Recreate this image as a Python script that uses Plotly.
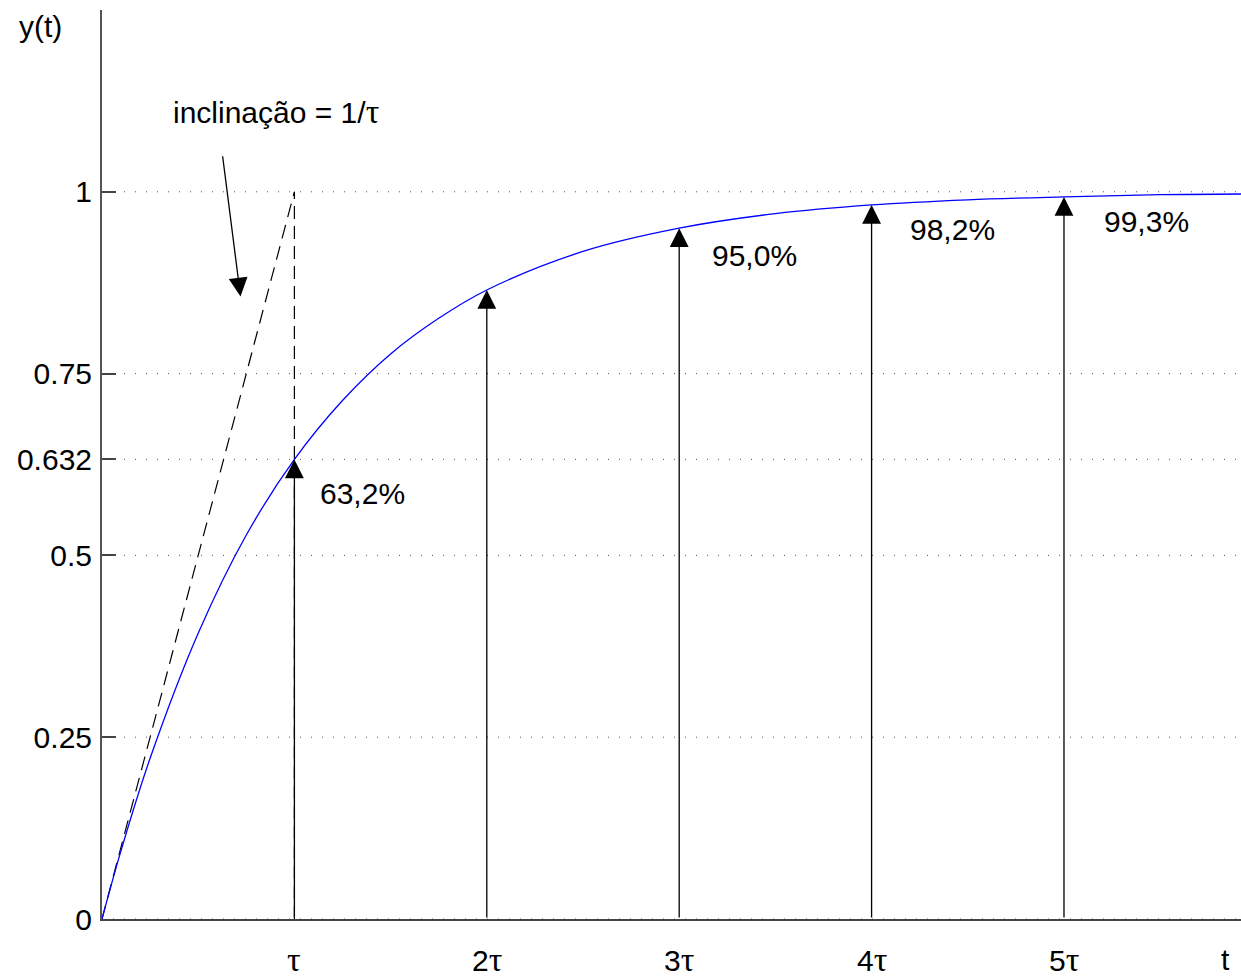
import plotly.graph_objects as go

# Step response of a first-order system, time measured in units of tau
t_curve = [0, 0.1, 0.25, 0.5, 0.75, 1.0, 1.25, 1.5, 1.75, 2.0, 2.5, 3.0, 3.5, 4.0, 4.5, 5.0, 5.5, 5.92]
y_curve = [0, 0.095, 0.221, 0.393, 0.528, 0.632, 0.713, 0.777, 0.826, 0.865, 0.918, 0.950,
           0.970, 0.982, 0.989, 0.993, 0.996, 0.997]

# Marked instants (multiples of tau) and the response reached there
t_marks = [1, 2, 3, 4, 5]
y_marks = [0.632, 0.865, 0.950, 0.982, 0.993]
mark_labels = ["τ", "2τ", "3τ", "4τ", "5τ"]
pct_labels = ["63,2%", None, "95,0%", "98,2%", "99,3%"]

# Y axis ticks
y_ticks = [0, 0.25, 0.5, 0.632, 0.75, 1, 1.25]
y_ticktext = ["0", "0.25", "0.5", "0.632", "0.75", "1", ""]
grid_levels = [0, 0.25, 0.5, 0.632, 0.75, 1]

# Tangent at the origin: slope 1/tau, reaching 1 at t = tau
tangent_t = [0, 1]
tangent_y = [0, 1]

X_MAX = 5.92
Y_MAX = 1.25
FONT = "Liberation Sans, Arial, Helvetica, sans-serif"
TAU_FONT = "Liberation Serif, Times New Roman, serif"
FS = 30


def tau_span(size):
    return f"<span style='font-family:{TAU_FONT}; font-size:{size}px'>τ</span>"


fig = go.Figure()

# dotted horizontal grid
for g in grid_levels:
    fig.add_shape(type="line", xref="x", yref="y", x0=0, x1=X_MAX, y0=g, y1=g,
                  line=dict(color="#555555", width=1, dash="1px,10px"), layer="below")

# tangent and vertical guide, dashed
fig.add_trace(go.Scatter(x=tangent_t, y=tangent_y, mode="lines",
                         line=dict(color="black", width=1.2, dash="14px,8px"),
                         hoverinfo="skip", showlegend=False))
fig.add_trace(go.Scatter(x=[tangent_t[1], tangent_t[1]], y=[0, tangent_y[1]], mode="lines",
                         line=dict(color="black", width=1.2, dash="13px,7px"),
                         hoverinfo="skip", showlegend=False))

# response curve
fig.add_trace(go.Scatter(x=t_curve, y=y_curve, mode="lines", line_shape="spline",
                         line=dict(color="#0000ff", width=1.3),
                         hoverinfo="skip", showlegend=False))

annotations = []

ARROW = dict(showarrow=True, arrowhead=2, arrowsize=2.9, arrowwidth=1.3, arrowcolor="black")

# vertical arrows from the time axis up to the curve
for tm, ym in zip(t_marks, y_marks):
    annotations.append(dict(x=tm, y=ym, ax=tm, ay=0, xref="x", yref="y", axref="x", ayref="y",
                            text="", **ARROW))

# percentage labels next to the arrow tips
label_offsets = {0: (24, -34), 2: (31, -27), 3: (36, -25), 4: (38, -25)}
for i, (tm, ym, lab) in enumerate(zip(t_marks, y_marks, pct_labels)):
    if lab is None:
        continue
    dx, dy = label_offsets[i]
    annotations.append(dict(x=tm, y=ym, xref="x", yref="y", text=lab, showarrow=False,
                            xanchor="left", yanchor="middle", xshift=dx, yshift=dy,
                            font=dict(family=FONT, size=FS, color="black")))

# multiples of tau under the time axis
for tm, lab in zip(t_marks, mark_labels):
    txt = lab[:-1] + tau_span(34)
    annotations.append(dict(x=tm, y=0, xref="x", yref="y", text=txt, showarrow=False,
                            xanchor="center", yanchor="middle", yshift=-40,
                            font=dict(family=FONT, size=FS, color="black")))

# axis names
annotations.append(dict(x=X_MAX, y=0, xref="x", yref="y", text="t", showarrow=False,
                        xanchor="center", yanchor="middle", xshift=-16, yshift=-40,
                        font=dict(family=FONT, size=FS, color="black")))
annotations.append(dict(x=0, y=Y_MAX, xref="x", yref="y", text="y(t)", showarrow=False,
                        xanchor="center", yanchor="middle", xshift=-62, yshift=-16,
                        font=dict(family=FONT, size=FS, color="black")))

# slope note with pointer to the tangent
annotations.append(dict(x=0.72, y=0.856, ax=0.626, ay=1.051, xref="x", yref="y",
                        axref="x", ayref="y", text="", **ARROW))
annotations.append(dict(x=0.906, y=1.111, xref="x", yref="y", showarrow=False,
                        text="inclinação = 1/" + tau_span(34),
                        xanchor="center", yanchor="middle",
                        font=dict(family=FONT, size=FS, color="black")))

fig.update_layout(
    width=1241, height=977,
    margin=dict(l=102, r=0, t=10, b=58),
    paper_bgcolor="white", plot_bgcolor="white",
    showlegend=False,
    annotations=annotations,
    font=dict(family=FONT, size=FS, color="black"),
)
fig.update_xaxes(range=[0, X_MAX], showgrid=False, zeroline=False, showticklabels=False,
                 ticks="", showline=True, linecolor="#444444", linewidth=2, fixedrange=True)
fig.update_yaxes(range=[0, Y_MAX], showgrid=False, zeroline=False,
                 tickvals=y_ticks, ticktext=y_ticktext, ticks="inside", ticklen=14,
                 tickcolor="#444444", tickwidth=1.5, showline=True, linecolor="#555555",
                 linewidth=2, tickfont=dict(family=FONT, size=FS, color="black"),
                 ticklabelstandoff=2, fixedrange=True)

fig.write_html("out.html")
